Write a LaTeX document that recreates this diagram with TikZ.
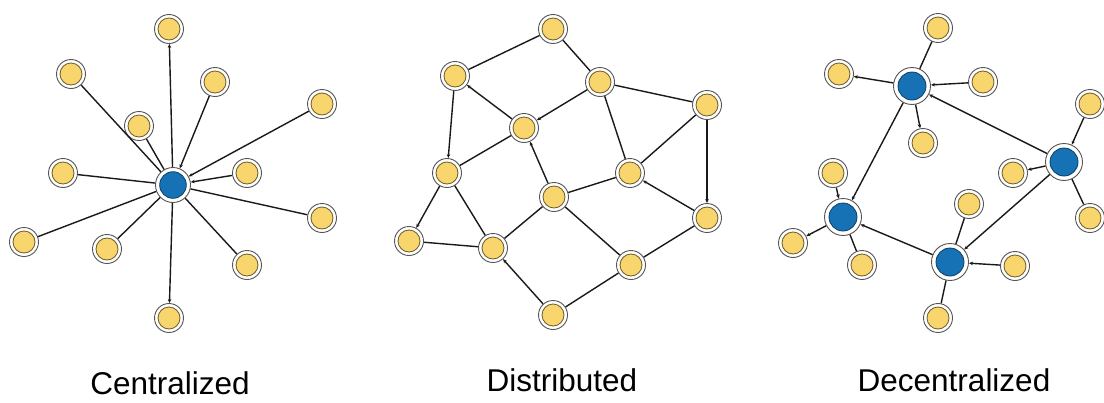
\documentclass[tikz,border=0pt]{standalone}
\usepackage{fontspec}
\setmainfont{Liberation Sans}
\usepackage{tikz}
\usetikzlibrary{arrows.meta}
\definecolor{peer}{HTML}{F8D66D}
\definecolor{peerline}{HTML}{6B5A2A}
\definecolor{hub}{HTML}{1672B5}
\definecolor{hubline}{HTML}{0D3F66}
\definecolor{ring}{HTML}{555555}

\begin{document}
\begin{tikzpicture}[
  x=1pt,y=-1pt,
  font=\fontsize{31.5}{36}\selectfont,
  leaf/.style={circle,draw=ring,line width=0.9pt,fill=white,minimum size=29pt,inner sep=0pt,
               path picture={\draw[draw=peerline,fill=peer,line width=0.8pt]
                 (path picture bounding box.center) circle (11pt);}},
  bighub/.style={circle,draw=ring,line width=0.9pt,fill=white,minimum size=35pt,inner sep=0pt,
               path picture={\draw[draw=hubline,fill=hub,line width=0.8pt]
                 (path picture bounding box.center) circle (13.3pt);}},
  mainhub/.style={bighub,minimum size=37pt,
               path picture={\draw[draw=hubline,fill=hub,line width=0.8pt]
                 (path picture bounding box.center) circle (14pt);}},
  link/.style={line width=1.4pt,draw=black!90},
  arr/.style={link,-{Stealth[length=4pt,width=3.5pt]}},
  caption/.style={anchor=base,inner sep=0pt}
]
\useasboundingbox (0,0) rectangle (1104,402);

% centralized: one hub, twelve peers
\node[bighub] (c0)  at (173,185) {};
\node[leaf]   (c1)  at (169,29)  {};
\node[leaf]   (c2)  at (71,74)   {};
\node[leaf]   (c3)  at (215,82)  {};
\node[leaf]   (c4)  at (322,104) {};
\node[leaf]   (c5)  at (139,126) {};
\node[leaf]   (c6)  at (63,173)  {};
\node[leaf]   (c7)  at (247,173) {};
\node[leaf]   (c8)  at (322,218) {};
\node[leaf]   (c9)  at (24,242)  {};
\node[leaf]   (c10) at (107,249) {};
\node[leaf]   (c11) at (247,265) {};
\node[leaf]   (c12) at (169,318) {};

\draw[arr]  (c0) -- (c1);
\draw[link] (c0) -- (c2);
\draw[arr]  (c3) -- (c0);
\draw[arr]  (c4) -- (c0);
\draw[link] (c0) -- (c5);
\draw[link] (c0) -- (c6);
\draw[arr]  (c7) -- (c0);
\draw[link] (c0) -- (c8);
\draw[link] (c0) -- (c9);
\draw[link] (c0) -- (c10);
\draw[link] (c0) -- (c11);
\draw[arr]  (c0) -- (c12);

% distributed: mesh of peers
\node[leaf] (d1)  at (553,29)  {};
\node[leaf] (d2)  at (455,76)  {};
\node[leaf] (d3)  at (600,82)  {};
\node[leaf] (d4)  at (707,105) {};
\node[leaf] (d5)  at (524,128) {};
\node[leaf] (d6)  at (447,173) {};
\node[leaf] (d7)  at (630,173) {};
\node[leaf] (d8)  at (554,197) {};
\node[leaf] (d9)  at (707,218) {};
\node[leaf] (d10) at (409,241) {};
\node[leaf] (d11) at (493,248) {};
\node[leaf] (d12) at (631,265) {};
\node[leaf] (d13) at (553,315) {};

\draw[link] (d1) -- (d2);
\draw[link] (d1) -- (d3);
\draw[arr]  (d5) -- (d2);
\draw[arr]  (d2) -- (d6);
\draw[arr]  (d3) -- (d5);
\draw[link] (d3) -- (d4);
\draw[link] (d3) -- (d7);
\draw[link] (d4) -- (d7);
\draw[arr]  (d4) -- (d9);
\draw[link] (d6) -- (d5);
\draw[arr]  (d8) -- (d5);
\draw[arr]  (d6) -- (d10);
\draw[link] (d6) -- (d11);
\draw[link] (d10) -- (d11);
\draw[link] (d8) -- (d7);
\draw[link] (d8) -- (d11);
\draw[link] (d8) -- (d12);
\draw[arr]  (d9) -- (d7);
\draw[link] (d12) -- (d9);
\draw[link] (d13) -- (d12);
\draw[arr]  (d13) -- (d11);

% decentralized: four hubs with their own peers
\node[mainhub] (ha) at (912,86)   {};
\node[mainhub] (hb) at (1064,162) {};
\node[mainhub] (hc) at (843,217)  {};
\node[mainhub] (hd) at (950,262)  {};

\node[leaf] (a1) at (938,28)   {};
\node[leaf] (a2) at (839,74)   {};
\node[leaf] (a3) at (983,82)   {};
\node[leaf] (a4) at (923,143)  {};
\node[leaf] (b1) at (1090,104) {};
\node[leaf] (b2) at (1013,173) {};
\node[leaf] (b3) at (1090,218) {};
\node[leaf] (e1) at (833,173)  {};
\node[leaf] (e2) at (793,243)  {};
\node[leaf] (e3) at (862,265)  {};
\node[leaf] (f1) at (969,204)  {};
\node[leaf] (f2) at (1015,266) {};
\node[leaf] (f3) at (938,318)  {};

\draw[link] (ha) -- (a1);
\draw[arr]  (ha) -- (a2);
\draw[arr]  (a3) -- (ha);
\draw[arr]  (ha) -- (a4);
\draw[arr]  (b1) -- (hb);
\draw[arr]  (hb) -- (b2);
\draw[link] (hb) -- (b3);
\draw[arr]  (e1) -- (hc);
\draw[arr]  (hc) -- (e2);
\draw[link] (hc) -- (e3);
\draw[link] (hd) -- (f1);
\draw[arr]  (f2) -- (hd);
\draw[link] (hd) -- (f3);

\draw[arr] (ha) -- (hc);
\draw[arr] (hb) -- (ha);
\draw[arr] (hd) -- (hc);
\draw[arr] (hb) -- (hd);

% captions
\node[caption] (capc) at (170,394) {Centralized};
\node[caption] (capd) at (562,391) {Distributed};
\node[caption] (cape) at (954,391) {Decentralized};
\end{tikzpicture}
\end{document}
